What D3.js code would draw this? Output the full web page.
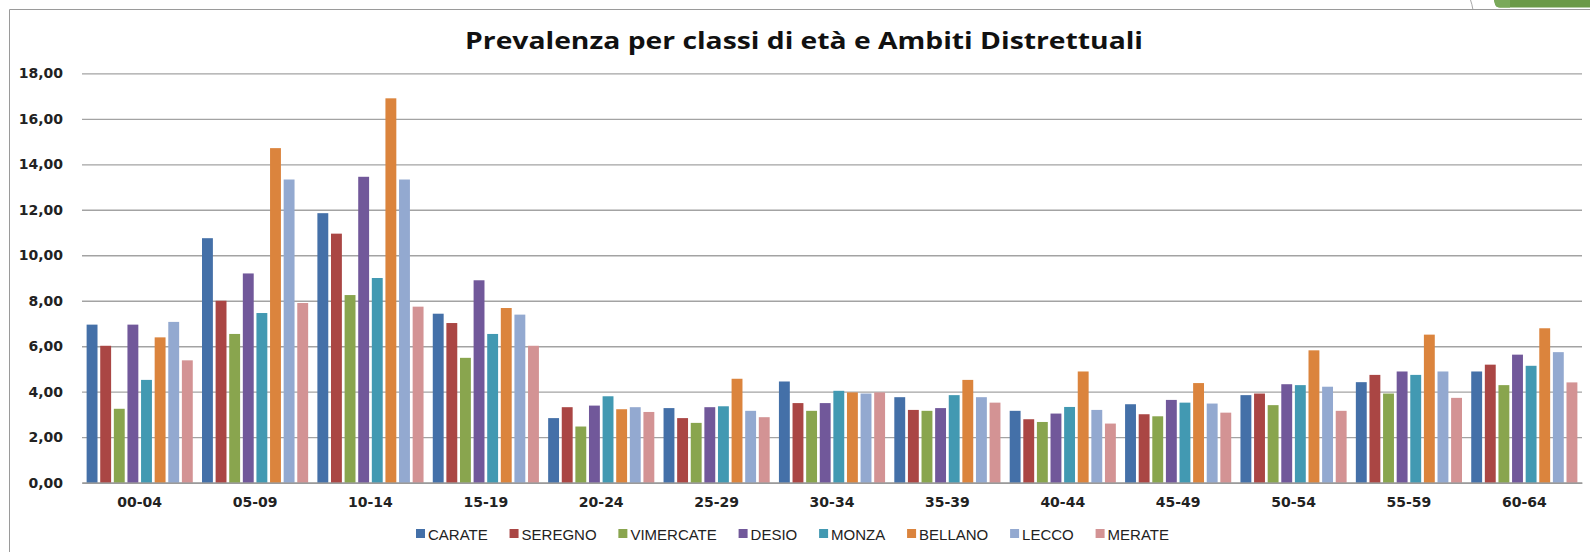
<!DOCTYPE html>
<html>
<head>
<meta charset="utf-8">
<script src="https://cdn.jsdelivr.net/npm/d3@7"></script>
<style>
  body { margin: 0; background: #fff; }
  svg { display: block; }
</style>
</head>
<body>
<div id="chart"></div>
<script>
// data
var categories = ["00-04", "05-09", "10-14", "15-19", "20-24", "25-29", "30-34",
                  "35-39", "40-44", "45-49", "50-54", "55-59", "60-64"];
var districts = ["CARATE", "SEREGNO", "VIMERCATE", "DESIO", "MONZA", "BELLANO", "LECCO", "MERATE"];

var carate    = [6.95, 10.75, 11.85, 7.43, 2.84, 3.28, 4.45, 3.76, 3.16, 3.45, 3.85, 4.42, 4.89];
var seregno   = [6.02,  8.00, 10.95, 7.02, 3.32, 2.84, 3.50, 3.20, 2.79, 3.01, 3.92, 4.74, 5.19];
var vimercate = [3.25,  6.54,  8.25, 5.49, 2.47, 2.63, 3.16, 3.16, 2.67, 2.92, 3.41, 3.92, 4.29];
var desio     = [6.95,  9.20, 13.45, 8.90, 3.39, 3.32, 3.50, 3.28, 3.04, 3.64, 4.33, 4.89, 5.63];
var monza     = [4.52,  7.46,  9.00, 6.54, 3.80, 3.36, 4.04, 3.85, 3.33, 3.52, 4.29, 4.74, 5.14];
var bellano   = [6.39, 14.71, 16.90, 7.68, 3.23, 4.57, 3.97, 4.52, 4.89, 4.38, 5.82, 6.51, 6.79];
var lecco     = [7.07, 13.33, 13.33, 7.39, 3.32, 3.16, 3.92, 3.76, 3.20, 3.48, 4.22, 4.89, 5.74];
var merate    = [5.38,  7.90,  7.74, 6.02, 3.11, 2.88, 3.97, 3.52, 2.60, 3.08, 3.16, 3.73, 4.41];

var yTicks = [0, 2, 4, 6, 8, 10, 12, 14, 16, 18];

var seriesValues = [carate, seregno, vimercate, desio, monza, bellano, lecco, merate];
var colors = ["#4470a8", "#aa4644", "#89a54e", "#71589a", "#4299b2", "#db843d", "#93a9d0", "#d39394"];

//dimensions
var W = 1590, H = 552;
var margin = {top: 73.3, right: 8, bottom: 69.3, left: 82},
    width = W - margin.left - margin.right,
    height = H - margin.top - margin.bottom;

var svg = d3.select("#chart")
    .append("svg")
    .attr("width", W)
    .attr("height", H);

// outer frame (left and top edges only are visible)
svg.append("path")
    .attr("d", "M9.5,552 L9.5,9.5 L1590,9.5")
    .attr("fill", "none")
    .attr("stroke", "#9a9a9a")
    .attr("stroke-width", 1);

// slide decoration in the top right corner
svg.append("path")
    .attr("d", "M1470.5,0 Q1472,4 1472.8,9")
    .attr("fill", "none")
    .attr("stroke", "#a8a8a8")
    .attr("stroke-width", 1);
svg.append("path")
    .attr("d", "M1494,0 L1590,0 L1590,7.5 L1500,7.5 Q1496,7.5 1495,4 Z")
    .attr("fill", "#6b9a48");
svg.append("path")
    .attr("d", "M1494,0 L1510,0 L1510,7.5 L1500,7.5 Q1496,7.5 1495,4 Z")
    .attr("fill", "#7aa95a");

// title (the original slide is stretched sideways a bit)
svg.append("text")
    .attr("transform", "translate(804,49) scale(1.23,1)")
    .style("text-anchor", "middle")
    .style("font-family", "'Open Sans', sans-serif")
    .style("font-weight", "bold")
    .style("font-size", "23px")
    .style("fill", "#111")
    .text("Prevalenza per classi di età e Ambiti Distrettuali");

var g = svg.append("g")
    .attr("transform", "translate(" + margin.left + "," + margin.top + ")");

var itLocale = d3.formatLocale({decimal: ",", thousands: ".", grouping: [3], currency: ["", "€"]});

var x = d3.scaleBand()
    .domain(categories)
    .range([0, width])
    .paddingInner(0.08)
    .paddingOuter(0.04);

var x1 = d3.scaleBand()
    .domain(districts)
    .range([0, x.bandwidth()])
    .paddingInner(0.2);

var y = d3.scaleLinear()
    .domain([0, 18])
    .range([height, 0]);

// y axis with gridlines
var yAxis = g.append("g")
    .call(d3.axisLeft(y)
        .tickValues(yTicks)
        .tickSize(-width)
        .tickPadding(19)
        .tickFormat(itLocale.format(".2f")));
yAxis.select(".domain").remove();
yAxis.selectAll(".tick line")
    .attr("stroke", "#a3a3a3")
    .attr("stroke-width", 1.3);
yAxis.selectAll(".tick text")
    .style("font-family", "'DejaVu Sans', sans-serif")
    .style("font-weight", "bold")
    .style("font-size", "14px")
    .style("fill", "#222");

// bars
var rows = categories.map(function (c, i) {
    return districts.map(function (d, j) { return {cat: c, name: d, value: seriesValues[j][i], k: j}; });
});

g.append("g")
    .selectAll("g")
    .data(rows)
    .enter()
    .append("g")
    .attr("transform", function (d, i) { return "translate(" + x(categories[i]) + ",0)"; })
    .selectAll("rect")
    .data(function (d) { return d; })
    .enter()
    .append("rect")
        .attr("x", function (d) { return x1(d.name); })
        .attr("y", function (d) { return y(d.value); })
        .attr("width", x1.bandwidth())
        .attr("height", function (d) { return height - y(d.value); })
        .style("fill", function (d) { return colors[d.k]; });

// x axis
var xAxis = g.append("g")
    .attr("transform", "translate(0," + height + ")")
    .call(d3.axisBottom(x).tickSize(0).tickPadding(14));
xAxis.select(".domain")
    .attr("stroke", "#8f8f8f")
    .attr("stroke-width", 1.3);
xAxis.selectAll(".tick text")
    .style("font-family", "'DejaVu Sans', sans-serif")
    .style("font-weight", "bold")
    .style("font-size", "14px")
    .style("fill", "#222");

// legend
var legend = svg.append("g");
var items = legend.selectAll("g")
    .data(districts)
    .enter()
    .append("g");
items.append("rect")
    .attr("y", 529)
    .attr("width", 9)
    .attr("height", 9)
    .style("fill", function (d, i) { return colors[i]; });
items.append("text")
    .attr("x", 12)
    .attr("y", 539.5)
    .style("font-family", "'Liberation Sans', Arial, sans-serif")
    .style("font-size", "15px")
    .style("fill", "#222")
    .text(function (d) { return d; });

// spread legend items over the same span as the original
var widths = [];
items.each(function () { widths.push(12 + this.querySelector("text").getComputedTextLength()); });
var legendLeft = 416, legendRight = 1169;
var gap = (legendRight - legendLeft - d3.sum(widths)) / (widths.length - 1);
var pos = legendLeft;
items.attr("transform", function (d, i) {
    var t = "translate(" + pos + ",0)";
    pos += widths[i] + gap;
    return t;
});
</script>
</body>
</html>
